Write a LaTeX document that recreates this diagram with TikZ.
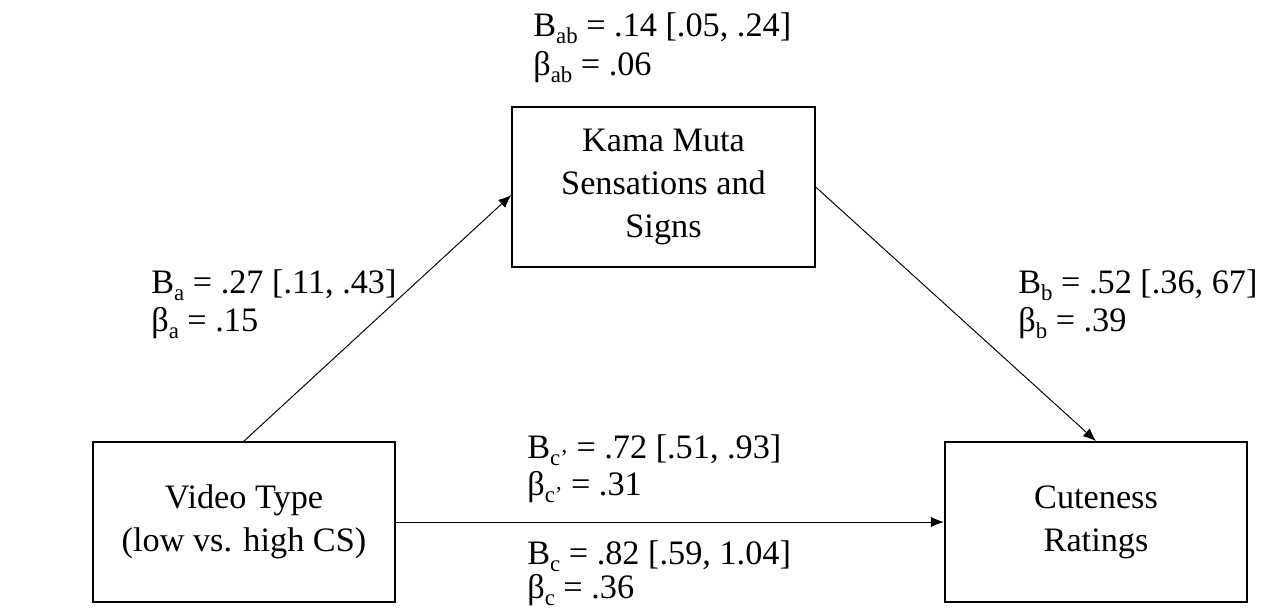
\documentclass[tikz,border=0pt]{standalone}
\usepackage{fontspec}
\setmainfont{Liberation Serif}
\usepackage{tikz}
\usetikzlibrary{arrows.meta}

\newcommand{\lsub}[1]{\raisebox{-0.22em}{\fontsize{13}{13}\selectfont #1}}

\tikzset{
	var/.style={rectangle, draw, line width=1.1pt, align=center, minimum width=6.05cm, minimum height=3.2cm, font=\fontsize{19.5}{24.5}\selectfont},
	lbl/.style={anchor=base west, inner sep=0pt, font=\fontsize{19.5}{23}\selectfont},
	path/.style={line width=0.55pt, -{Latex[length=2.6mm, width=2.1mm]}}
}

\begin{document}
\begin{tikzpicture}[x=0.02cm, y=-0.02cm]
			\useasboundingbox (0,0) rectangle (1266,610);
			% Nodes
			\node[var] (med) at (663.5,187) {Kama Muta\\Sensations and\\Signs};
			\node[var] (iv) at (244,522) {Video Type\\(low vs. high CS)};
			\node[var] (dv) at (1096,522) {Cuteness\\Ratings};
			% Coefficients
			\node[lbl] (ab1) at (533,36) {B\lsub{ab} = .14 [.05, .24]};
			\node[lbl] (ab2) at (533,75) {β\lsub{ab} = .06};
			\node[lbl] (a1) at (151,293) {B\lsub{a} = .27 [.11, .43]};
			\node[lbl] (a2) at (151,331) {β\lsub{a} = .15};
			\node[lbl] (b1) at (1018,293) {B\lsub{b} = .52 [.36, 67]};
			\node[lbl] (b2) at (1018,331) {β\lsub{b} = .39};
			\node[lbl] (cp1) at (527,458) {B\lsub{c’} = .72 [.51, .93]};
			\node[lbl] (cp2) at (527,495) {β\lsub{c’} = .31};
			\node[lbl] (c1) at (527,564) {B\lsub{c} = .82 [.59, 1.04]};
			\node[lbl] (c2) at (527,598) {β\lsub{c} = .36};
			% Paths
			\draw[path] (iv.north) -- ([yshift=-0.16cm]med.west);
			\draw[path] (med.east) -- (dv.north);
			\draw[path] (iv.east) -- (dv.west);
		\end{tikzpicture}
\end{document}
